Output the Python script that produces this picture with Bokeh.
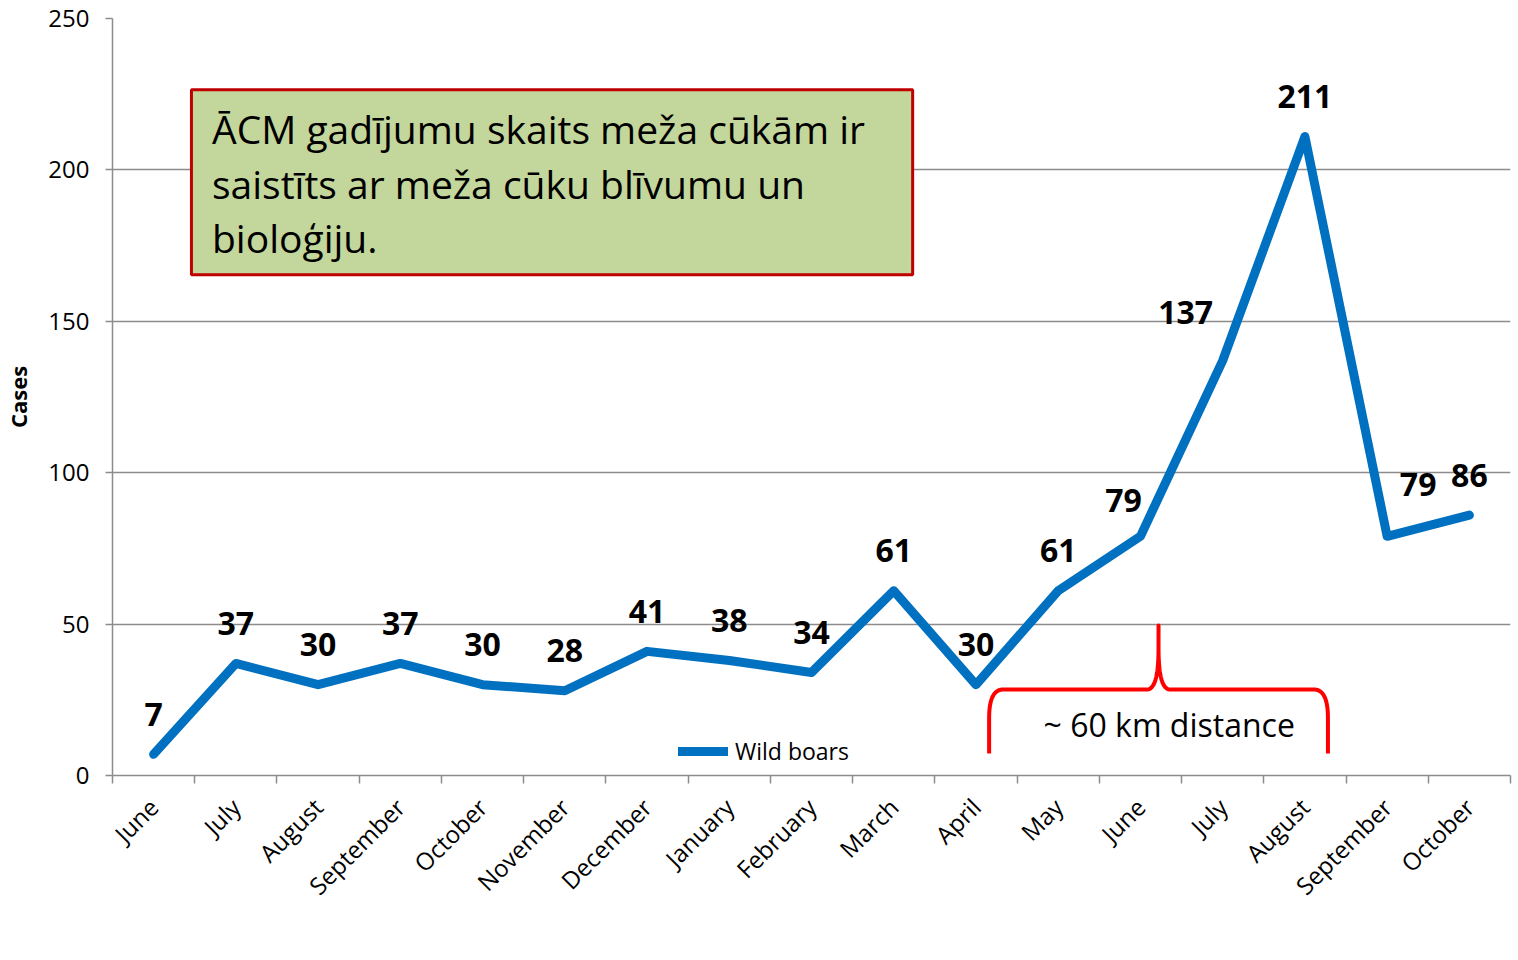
import numpy as np
from math import pi
from bokeh.plotting import figure
from bokeh.models import (ColumnDataSource, Range1d, FixedTicker, BoxAnnotation,
                          Label, Legend, LegendItem)
from bokeh.core.properties import value
from bokeh.embed import file_html
from bokeh.resources import INLINE

months = ["June", "July", "August", "September", "October", "November", "December",
          "January", "February", "March", "April", "May", "June", "July", "August",
          "September", "October"]
cases = [7, 37, 30, 37, 30, 28, 41, 38, 34, 61, 30, 61, 79, 137, 211, 79, 86]
y_ticks = [0, 50, 100, 150, 200, 250]
series_name = "Wild boars"

FONT = "Open Sans"
BLUE = "#0070C0"
GRID = "#8C8C8C"

x = [i + 0.5 for i in range(len(cases))]

# pixel offsets for the data labels (styling only)
dx = [0] * len(cases)
dy = [-40] * len(cases)
dx[12], dy[12] = -17, -36
dx[13], dy[13] = -37, -48
dx[15], dy[15] = 31, -52

src = ColumnDataSource(dict(x=x, y=cases, txt=[str(v) for v in cases], dx=dx, dy=dy))

p = figure(width=1518, height=960, output_backend="svg", toolbar_location=None,
           x_range=Range1d(0, len(cases)), y_range=Range1d(0, 250),
           min_border_left=110, min_border_right=8, min_border_top=18,
           min_border_bottom=185)
p.outline_line_color = None
p.background_fill_color = "white"
p.border_fill_color = "white"

# grid
p.xgrid.grid_line_color = None
p.ygrid.grid_line_color = GRID
p.ygrid.grid_line_width = 1.5
p.ygrid.ticker = FixedTicker(ticks=y_ticks)

# y axis
p.yaxis.ticker = FixedTicker(ticks=y_ticks)
p.yaxis.axis_line_color = GRID
p.yaxis.axis_line_width = 1.5
p.yaxis.major_tick_line_color = GRID
p.yaxis.major_tick_line_width = 1.5
p.yaxis.major_tick_in = 0
p.yaxis.major_tick_out = 7
p.yaxis.minor_tick_line_color = None
p.yaxis.major_label_text_font = FONT
p.yaxis.major_label_text_font_size = "24px"
p.yaxis.major_label_text_color = "black"
p.yaxis.major_label_standoff = 16
p.yaxis.axis_label = "Cases"
p.yaxis.axis_label_text_font = FONT
p.yaxis.axis_label_text_font_size = "22px"
p.yaxis.axis_label_text_font_style = "bold"
p.yaxis.axis_label_text_color = "black"
p.yaxis.axis_label_standoff = 12

# x axis
p.xaxis.ticker = FixedTicker(ticks=x, minor_ticks=list(range(len(cases) + 1)))
p.xaxis.major_label_overrides = {xi: m for xi, m in zip(x, months)}
p.xaxis.axis_line_color = GRID
p.xaxis.axis_line_width = 1.5
p.xaxis.major_tick_line_color = None
p.xaxis.major_tick_in = 0
p.xaxis.major_tick_out = 0
p.xaxis.minor_tick_line_color = GRID
p.xaxis.minor_tick_line_width = 1.5
p.xaxis.minor_tick_in = 0
p.xaxis.minor_tick_out = 8
p.xaxis.major_label_orientation = pi / 4
p.xaxis.major_label_text_font = FONT
p.xaxis.major_label_text_font_size = "24px"
p.xaxis.major_label_text_color = "black"
p.xaxis.major_label_standoff = 19

# series
r = p.line("x", "y", source=src, line_color=BLUE, line_width=9,
           line_join="round", line_cap="round")
p.text("x", "y", text="txt", source=src, x_offset="dx", y_offset="dy",
       text_font=value(FONT), text_font_size="32px", text_font_style="bold",
       text_align="center", text_baseline="middle", text_color="black")

# text box
p.add_layout(BoxAnnotation(left=0.96, right=9.73, top=226.5, bottom=165.4,
                           fill_color="#C3D69B", fill_alpha=1,
                           line_color="#C00000", line_alpha=1, line_width=3))
box_lines = ["ĀCM gadījumu skaits meža cūkām ir",
             "saistīts ar meža cūku blīvumu un",
             "bioloģiju."]
for k, t in enumerate(box_lines):
    p.add_layout(Label(x=1.21, y=213.6 - k * 18.0, text=t, text_font=FONT,
                       text_font_size="39px", text_baseline="middle",
                       text_align="left", text_color="black"))


# brace annotation
def qbez(p0, p1, p2, n=24):
    t = np.linspace(0, 1, n)[:, None]
    a, b, c = map(np.array, (p0, p1, p2))
    return ((1 - t) ** 2 * a + 2 * (1 - t) * t * b + t ** 2 * c)

xl, xr, xm = 10.66, 14.78, 12.72
yb, yh, yp = 7.3, 28.4, 49.5
pts = [np.array([[xl, yb], [xl, 19.0]]),
       qbez((xl, 19.0), (xl, yh), (xl + 0.17, yh)),
       np.array([[xl + 0.17, yh], [xm - 0.14, yh]]),
       qbez((xm - 0.14, yh), (xm, yh), (xm, 42.0)),
       np.array([[xm, 42.0], [xm, yp]]),
       np.array([[xm, yp], [xm, 42.0]]),
       qbez((xm, 42.0), (xm, yh), (xm + 0.14, yh)),
       np.array([[xm + 0.14, yh], [xr - 0.17, yh]]),
       qbez((xr - 0.17, yh), (xr, yh), (xr, 19.0)),
       np.array([[xr, 19.0], [xr, yb]])]
path = np.vstack(pts)
p.line(path[:, 0], path[:, 1], line_color="#FF0000", line_width=4, line_join="round")
p.add_layout(Label(x=12.85, y=17.0, text="~ 60 km distance", text_font=FONT,
                   text_font_size="32px", text_align="center",
                   text_baseline="middle", text_color="black"))

# legend (kept inside the plot area, near the bottom, so that it stays visible)
legend = Legend(items=[LegendItem(label=series_name, renderers=[r])],
                location=(566, 8), orientation="horizontal",
                label_text_font=FONT, label_text_font_size="23px",
                label_text_color="black", glyph_width=50, glyph_height=16,
                label_height=16, label_standoff=7, padding=0, margin=0,
                border_line_color=None, background_fill_alpha=0)
p.add_layout(legend, "center")

open("out.html", "w").write(file_html(p, INLINE))
